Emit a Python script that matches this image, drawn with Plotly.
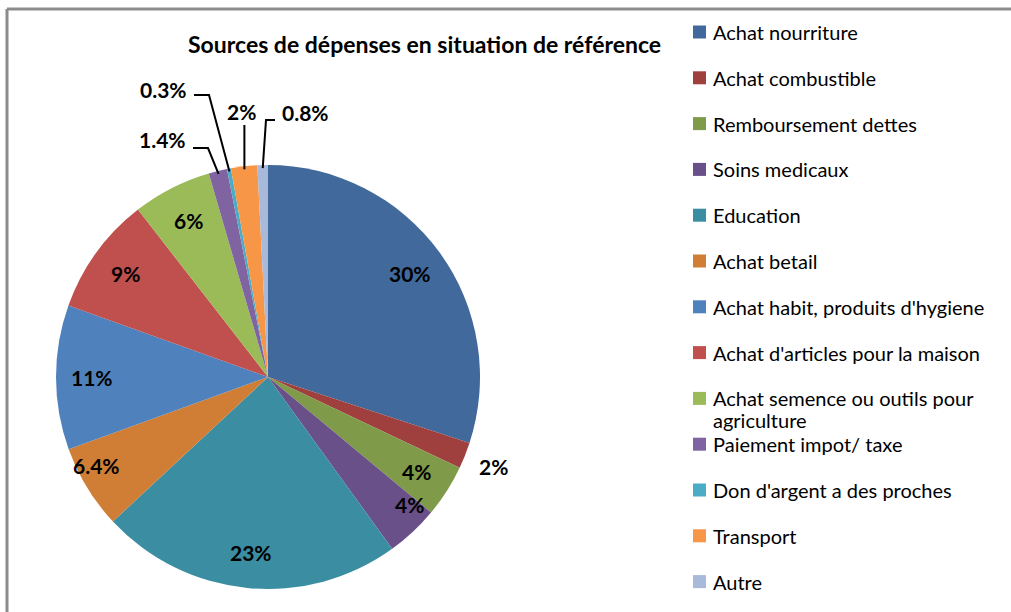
import math
import plotly.graph_objects as go

# ---- data ----
categories = [
    "Achat nourriture",
    "Achat combustible",
    "Remboursement dettes",
    "Soins medicaux",
    "Education",
    "Achat betail",
    "Achat habit, produits d'hygiene",
    "Achat d'articles pour la maison",
    "Achat semence ou outils pour agriculture",
    "Paiement impot/ taxe",
    "Don d'argent a des proches",
    "Transport",
    "Autre",
]
values = [30, 2, 4, 4, 23, 6.4, 11, 9, 6, 1.4, 0.3, 2, 0.8]
value_labels = ["30%", "2%", "4%", "4%", "23%", "6.4%", "11%", "9%", "6%", "1.4%", "0.3%", "2%", "0.8%"]
colors = ["#41699B", "#A0403E", "#7F9A48", "#6A5088", "#3B8DA2", "#D07E35",
          "#4F81BD", "#C0504D", "#9BBB59", "#8064A2", "#4BACC6", "#F79646", "#A9B9D9"]
title = "Sources de dépenses en situation de référence"

# ---- layout geometry (pixels) ----
W, H = 1011, 612
CX, CY, R = 268, 377, 212
FONT = "Lato"


def px(x, y):
    return x / W, 1 - y / H


total = sum(values)
mid_angles = []
cum = 0
for v in values:
    mid_angles.append((cum + v / 2) / total * 2 * math.pi)
    cum += v


def polar(i, r, da=0.0):
    a = mid_angles[i] + math.radians(da)
    return CX + r * math.sin(a), CY - r * math.cos(a)


# labels drawn outside the pie (layout choices: label centre, elbow points)
outside = {
    1: {"label": (493, 466), "elbow": None},
    9: {"label": (162, 140), "elbow": [(193, 148), (208, 148)]},
    10: {"label": (163, 89), "elbow": [(194, 95), (209, 95)]},
    11: {"label": (241, 111), "elbow": "vertical"},
    12: {"label": (305, 112), "elbow": [(275, 120), (266, 120)]},
}
inside_pos = {5: (0.91, 4), 3: (0.9, -5)}

fig = go.Figure()
fig.add_trace(go.Pie(
    labels=categories,
    values=values,
    sort=False,
    direction="clockwise",
    rotation=0,
    marker=dict(colors=colors, line=dict(width=0)),
    textinfo="none",
    hoverinfo="skip",
    showlegend=False,
    domain=dict(x=[(CX - R) / W, (CX + R) / W], y=[1 - (CY + R) / H, 1 - (CY - R) / H]),
))

annotations = []
shapes = []

# data labels
for i, lab in enumerate(value_labels):
    if i in outside:
        lx, ly = outside[i]["label"]
    else:
        rf, da = inside_pos.get(i, (0.83, 0))
        lx, ly = polar(i, R * rf, da)
    x, y = px(lx, ly)
    annotations.append(dict(x=x, y=y, xref="paper", yref="paper", text="<b>%s</b>" % lab,
                            showarrow=False, xanchor="center", yanchor="middle",
                            font=dict(family=FONT, size=21, color="#000000")))
    el = outside.get(i, {}).get("elbow")
    if el:
        ex, ey = polar(i, R - 3)
        if el == "vertical":
            pts = [(ex, ly + 14), (ex, ey)]
        else:
            pts = list(el) + [(ex, ey)]
        path = "M " + " L ".join("%f,%f" % px(a, b) for a, b in pts)
        shapes.append(dict(type="path", xref="paper", yref="paper", path=path,
                           line=dict(color="#000000", width=2)))

# legend (manual, Excel-like spacing)
LEG_X, LEG_Y0, LEG_DY = 693, 32, 45.8
for i, cat in enumerate(categories):
    yc = LEG_Y0 + i * LEG_DY
    x0, y0 = px(LEG_X, yc - 6.5)
    x1, y1 = px(LEG_X + 13, yc + 6.5)
    shapes.append(dict(type="rect", xref="paper", yref="paper", x0=x0, x1=x1, y0=y1, y1=y0,
                       fillcolor=colors[i], line=dict(width=0)))
    lines = [cat]
    if len(cat) > 35:
        k = cat.rfind(" ", 0, 29)
        lines = [cat[:k], cat[k + 1:]]
    for j, line in enumerate(lines):
        tx, ty = px(LEG_X + 18, yc + j * 22)
        annotations.append(dict(x=tx, y=ty, xref="paper", yref="paper", text=line,
                                showarrow=False, xanchor="left", yanchor="middle", align="left",
                                font=dict(family=FONT, size=20, color="#000000")))

# title
tx, ty = px(424, 44)
annotations.append(dict(x=tx, y=ty, xref="paper", yref="paper", text="<b>%s</b>" % title,
                        showarrow=False, xanchor="center", yanchor="middle",
                        font=dict(family=FONT, size=23, color="#000000")))

# chart frame
for (a, b, c, d) in [(7, 9, W, 9), (7, 9, 7, H)]:
    x0, y0 = px(a, b)
    x1, y1 = px(c, d)
    shapes.append(dict(type="line", xref="paper", yref="paper", x0=x0, y0=y0, x1=x1, y1=y1,
                       line=dict(color="#8c8c8c", width=3)))

fig.update_layout(
    width=W, height=H,
    margin=dict(l=0, r=0, t=0, b=0),
    paper_bgcolor="white", plot_bgcolor="white",
    annotations=annotations, shapes=shapes,
    showlegend=False,
)
fig.write_html("out.html", config={"displayModeBar": False},
               post_script="document.body.style.margin='0';document.body.style.overflow='hidden';")
